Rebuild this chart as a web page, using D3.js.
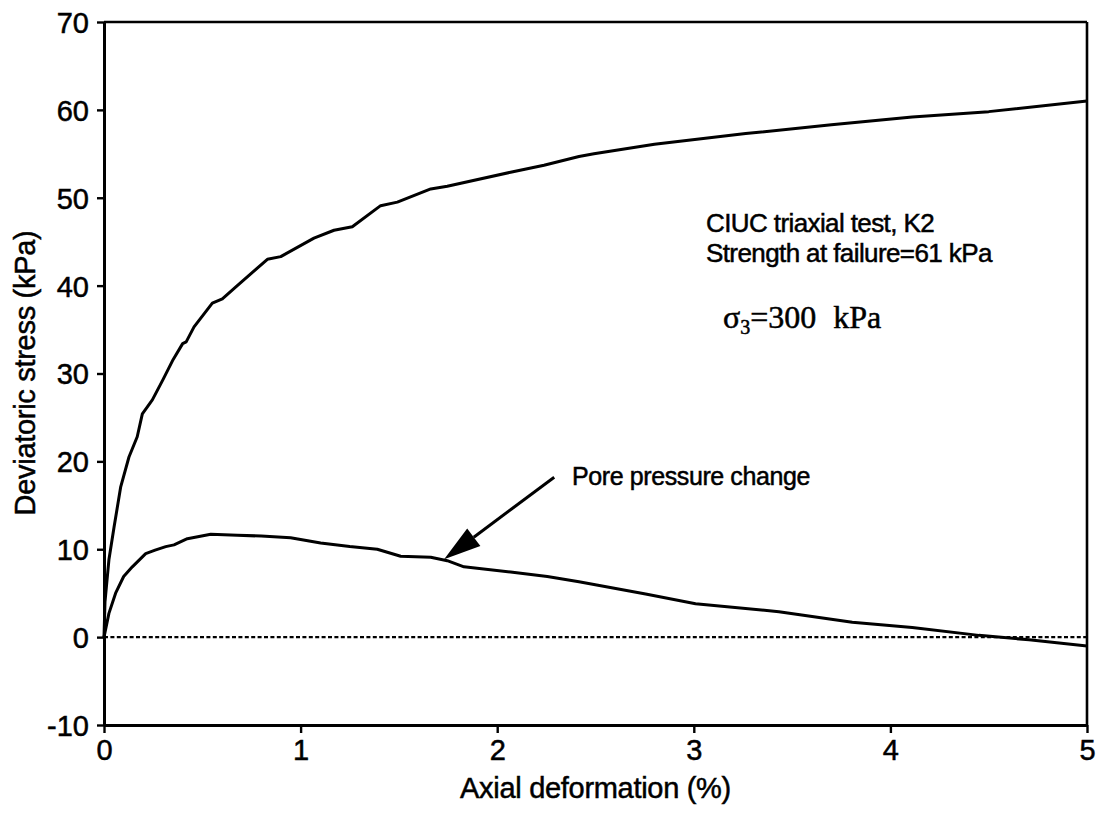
<!DOCTYPE html>
<html>
<head>
<meta charset="utf-8">
<script src="https://cdn.jsdelivr.net/npm/d3@7"></script>
<style>
  html, body { margin: 0; padding: 0; background: #fff; }
  svg { display: block; }
  text { font-family: "Liberation Sans", Arial, Helvetica, sans-serif; fill: #000; stroke: #000; stroke-width: 0.5px; }
</style>
</head>
<body>
<svg id="chart" width="1105" height="813"></svg>
<script>
// Deviatoric stress vs axial deformation (CIUC triaxial test, K2)
const stressStrain = [0, 0.005, 0.012, 0.025, 0.051, 0.085, 0.127, 0.169, 0.195, 0.246, 0.30, 0.352, 0.40, 0.418, 0.458, 0.551, 0.602, 0.678, 0.831, 0.899, 1.068, 1.170, 1.263, 1.407, 1.492, 1.662, 1.746, 2.068, 2.238, 2.416, 2.492, 2.80, 3.264, 3.70, 4.111, 4.50, 5.0];
const stressValues = [0, 4.0, 5.7, 8.8, 12.5, 17.1, 20.5, 22.8, 25.4, 27.0, 29.3, 31.6, 33.4, 33.6, 35.3, 38.0, 38.5, 40.0, 43.0, 43.3, 45.4, 46.3, 46.7, 49.1, 49.5, 51.0, 51.3, 52.9, 53.7, 54.7, 55.0, 56.1, 57.3, 58.3, 59.2, 59.8, 61.0];

// Pore pressure change vs axial deformation
const poreStrain = [0, 0.025, 0.059, 0.10, 0.144, 0.212, 0.26, 0.314, 0.356, 0.424, 0.543, 0.678, 0.800, 0.949, 1.102, 1.250, 1.390, 1.509, 1.662, 1.746, 1.831, 2.068, 2.255, 2.416, 2.755, 3.009, 3.433, 3.806, 4.111, 4.450, 4.705, 5.0];
const poreValues = [0, 2.7, 5.0, 6.9, 8.0, 9.5, 9.9, 10.3, 10.5, 11.2, 11.7, 11.6, 11.5, 11.3, 10.7, 10.3, 10.0, 9.2, 9.1, 8.7, 8.0, 7.4, 6.9, 6.3, 4.9, 3.8, 2.9, 1.7, 1.1, 0.2, -0.3, -1.0];

const xTicks = [0, 1, 2, 3, 4, 5];
const yTicks = [-10, 0, 10, 20, 30, 40, 50, 60, 70];

// Annotation arrow: tail and tip in data units
const arrowTail = [2.29, 18.2];
const arrowTip = [1.73, 8.85];

const svg = d3.select("#chart");
const plotLeft = 104, plotRight = 1087, plotTop = 22, plotBottom = 725;

const x = d3.scaleLinear().domain([0, 5]).range([plotLeft, plotRight]);
const y = d3.scaleLinear().domain([-10, 70]).range([plotBottom, plotTop]);

// Frame: top and right borders
svg.append("line").attr("x1", plotLeft).attr("x2", plotRight).attr("y1", plotTop).attr("y2", plotTop)
  .attr("stroke", "#000").attr("stroke-width", 2.6);
svg.append("line").attr("x1", plotRight).attr("x2", plotRight).attr("y1", plotTop).attr("y2", plotBottom)
  .attr("stroke", "#000").attr("stroke-width", 2.6);

// Axes (plain hyphen for negative labels)
const fmt = d => String(d);
const xAxis = svg.append("g").attr("transform", `translate(0,${plotBottom})`)
  .call(d3.axisBottom(x).tickValues(xTicks).tickFormat(fmt).tickSize(8).tickSizeOuter(0).tickPadding(6));
const yAxis = svg.append("g").attr("transform", `translate(${plotLeft},0)`)
  .call(d3.axisLeft(y).tickValues(yTicks).tickFormat(fmt).tickSize(7).tickSizeOuter(0).tickPadding(8));

[xAxis, yAxis].forEach(g => {
  g.select(".domain").attr("stroke", "#000").attr("stroke-width", 3);
  g.selectAll(".tick line").attr("stroke", "#000").attr("stroke-width", 2.4);
  g.selectAll(".tick text").attr("font-size", 29).attr("font-family", "Liberation Sans, Arial, sans-serif")
    .attr("fill", "#000").attr("stroke", "#000").attr("stroke-width", 0.6);
});
yAxis.selectAll(".tick text").attr("dy", "0.36em");

// Zero reference line (dotted)
svg.append("line")
  .attr("x1", x(0)).attr("x2", x(5)).attr("y1", y(0)).attr("y2", y(0))
  .attr("stroke", "#000").attr("stroke-width", 2.4).attr("stroke-dasharray", "4,2.4");

const line = d3.line().x(d => x(d[0])).y(d => y(d[1]));

svg.append("path")
  .datum(stressStrain.map((s, i) => [s, stressValues[i]]))
  .attr("d", line).attr("fill", "none").attr("stroke", "#000")
  .attr("stroke-width", 3).attr("stroke-linejoin", "round");

svg.append("path")
  .datum(poreStrain.map((s, i) => [s, poreValues[i]]))
  .attr("d", line).attr("fill", "none").attr("stroke", "#000")
  .attr("stroke-width", 3).attr("stroke-linejoin", "round");

// Arrow pointing at the pore pressure curve
const tx = x(arrowTail[0]), ty = y(arrowTail[1]);
const hx = x(arrowTip[0]), hy = y(arrowTip[1]);
const len = Math.hypot(tx - hx, ty - hy);
const ux = (tx - hx) / len, uy = (ty - hy) / len;
const headLen = 37, headHalf = 11;
const bx = hx + ux * headLen, by = hy + uy * headLen;
svg.append("line").attr("x1", tx).attr("y1", ty).attr("x2", bx).attr("y2", by)
  .attr("stroke", "#000").attr("stroke-width", 3);
svg.append("polygon")
  .attr("points", [[hx, hy], [bx - uy * headHalf, by + ux * headHalf], [bx + uy * headHalf, by - ux * headHalf]].map(p => p.join(",")).join(" "))
  .attr("fill", "#000");

// Axis titles
svg.append("text").attr("x", (plotLeft + plotRight) / 2).attr("y", 798)
  .attr("text-anchor", "middle").attr("font-size", 29).attr("letter-spacing", -0.3).text("Axial deformation (%)");
svg.append("text").attr("transform", "translate(35,373) rotate(-90)")
  .attr("text-anchor", "middle").attr("font-size", 29).attr("letter-spacing", -0.3).text("Deviatoric stress (kPa)");

// Annotations
svg.append("text").attr("x", 706).attr("y", 232).attr("font-size", 26).attr("letter-spacing", -0.6).text("CIUC triaxial test, K2");
svg.append("text").attr("x", 706).attr("y", 262).attr("font-size", 26).attr("letter-spacing", -0.6).text("Strength at failure=61 kPa");

const sig = svg.append("text").attr("x", 723).attr("y", 328)
  .attr("font-size", 32).attr("stroke-width", 0.3).style("font-family", "Liberation Serif, Times New Roman, serif");
sig.append("tspan").text("σ");
sig.append("tspan").attr("font-size", 20).attr("dy", 6).text("3");
sig.append("tspan").attr("dy", -6).text("=300");
sig.append("tspan").attr("dx", 17).text("kPa");

svg.append("text").attr("x", 572).attr("y", 485).attr("font-size", 25).attr("letter-spacing", -0.4).text("Pore pressure change");
</script>
</body>
</html>
